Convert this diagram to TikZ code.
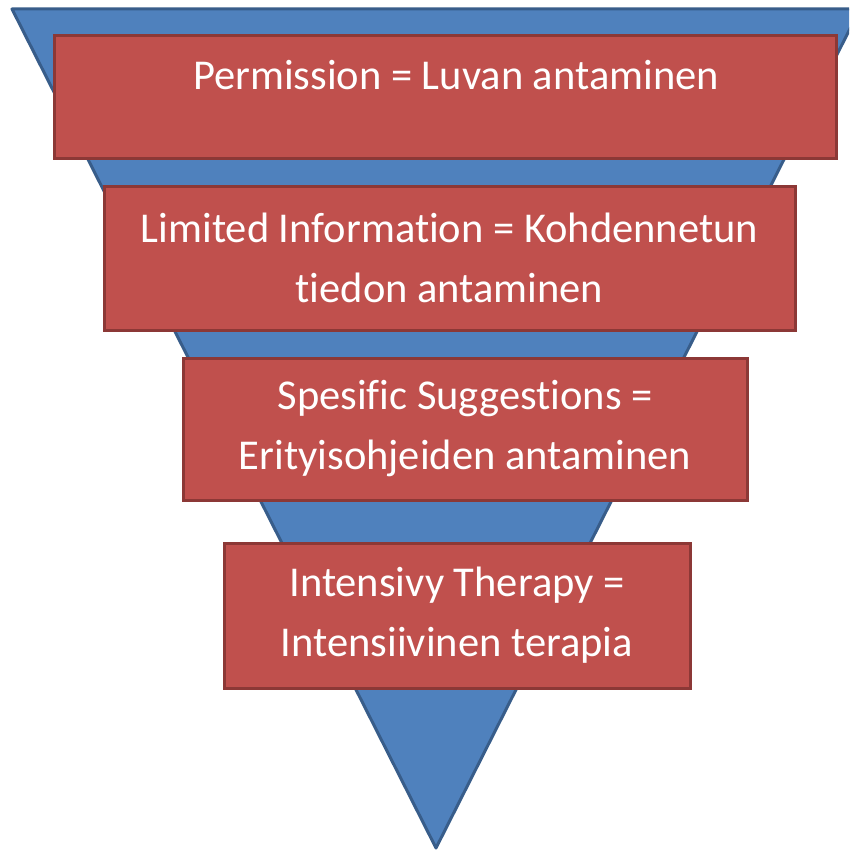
\documentclass[tikz,border=0pt]{standalone}
\usepackage{fontspec}
\setmainfont[Ligatures=NoCommon]{Carlito}
\usetikzlibrary{positioning,calc}
\definecolor{funnelBlue}{RGB}{79,129,189}
\definecolor{funnelEdge}{RGB}{56,93,138}
\definecolor{stepRed}{RGB}{192,80,77}
\definecolor{stepEdge}{RGB}{140,56,54}

\begin{document}
\begin{tikzpicture}[
    x=1pt, y=-1pt,
    level/.style={draw=stepEdge, line width=3pt, fill=stepRed, inner sep=0pt, text=white, align=center,
      font=\fontsize{42.5}{60}\selectfont},
    levellabel/.style={text=white, inner sep=0pt, font=\fontsize{42.5}{60}\selectfont}
  ]
    \useasboundingbox (0,0) rectangle (849,851);
    % funnel behind the steps
    \begin{scope}
      \clip (0,0) rectangle (849,851);
      \draw[funnelEdge, line width=3pt, fill=funnelBlue, line join=round] (12,9) -- (860,9) -- (436,848) -- cycle;
    \end{scope}
    \node[level, minimum width=782, minimum height=122] (perm) at (445,97) {};
    \node[levellabel] (permtext) at ($(perm.north)+(11,41)$) {Permission = Luvan antaminen};
    \node[level, minimum width=691, minimum height=144] (info) at (449.5,258) {Limited Information = Kohdennetun\\tiedon antaminen};
    \node[level, minimum width=564, minimum height=142] (sugg) at (465,429) {Spesific Suggestions =\\Erityisohjeiden antaminen};
    \node[level, minimum width=466, minimum height=145] (ther) at (457,615.5) {Intensivy Therapy =\\Intensiivinen terapia};
  \end{tikzpicture}
\end{document}
